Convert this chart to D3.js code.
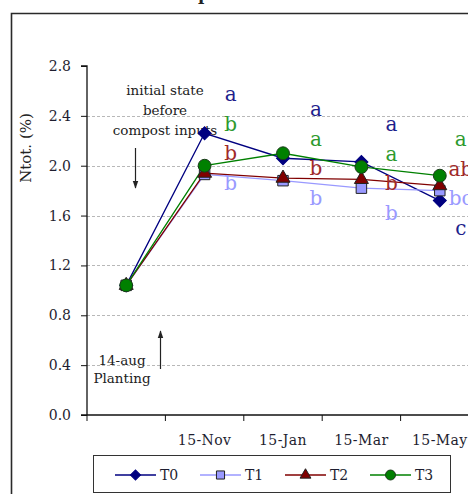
<!DOCTYPE html>
<html>
<head>
<meta charset="utf-8">
<script src="https://cdn.jsdelivr.net/npm/d3@7"></script>
<style>
  body { margin: 0; background: #fff; }
  svg { display: block; }
</style>
</head>
<body>
<div id="chart"></div>
<script>
// dates on the x axis (first one is the planting date, no label)
const categories = ["", "15-Nov", "15-Jan", "15-Mar", "15-May"];
const yTicks = [0, 0.4, 0.8, 1.2, 1.6, 2.0, 2.4, 2.8];

const seriesNames = ["T0", "T1", "T2", "T3"];
const t0 = [1.04, 2.26, 2.06, 2.03, 1.72];
const t1 = [1.04, 1.93, 1.88, 1.82, 1.80];
const t2 = [1.04, 1.94, 1.90, 1.89, 1.84];
const t3 = [1.04, 2.00, 2.10, 1.99, 1.92];

// significance letters per date
const lettersT0 = ["", "a", "a", "a", "c"];
const lettersT1 = ["", "b", "b", "b", "bc"];
const lettersT2 = ["", "b", "b", "b", "ab"];
const lettersT3 = ["", "b", "a", "a", "a"];

const width = 468;
const height = 494;

const colors = { T0: "#000080", T1: "#9999ff", T2: "#800000", T3: "#008000" };
const letterColors = { T0: "#1f1f8c", T1: "#9a9aff", T2: "#a02a2a", T3: "#2e9a2e" };

const svg = d3.select("#chart")
  .append("svg")
  .attr("width", width)
  .attr("height", height);

svg.append("defs").append("marker")
  .attr("id", "arrow")
  .attr("viewBox", "0 0 10 10")
  .attr("refX", 9).attr("refY", 5)
  .attr("markerWidth", 8).attr("markerHeight", 8)
  .attr("markerUnits", "userSpaceOnUse")
  .attr("orient", "auto")
  .append("path")
  .attr("d", "M0,1.5 L10,5 L0,8.5 Z")
  .attr("fill", "#222");

// outer chart frame (cut by the window)
svg.append("path")
  .attr("d", "M11.5,494 L11.5,13.5 L470,13.5")
  .attr("fill", "none")
  .attr("stroke", "#2a2a2a")
  .attr("stroke-width", 1.6);

// what is left of the title
svg.append("text")
  .attr("x", 198).attr("y", 0)
  .style("font-family", "DejaVu Serif, serif")
  .style("font-size", "17px")
  .style("font-weight", "bold")
  .attr("fill", "#222")
  .text("p");

const x = d3.scaleBand()
  .domain(categories.map((d, i) => i))
  .range([87, 87 + 78.4 * 5]);

const y = d3.scaleLinear()
  .domain([0, 2.8])
  .range([415, 66]);

// grid lines
svg.append("g")
  .selectAll("line")
  .data(yTicks.filter(d => d > 0 && d < 2.8))
  .join("line")
  .attr("x1", 87).attr("x2", width)
  .attr("y1", d => Math.round(y(d)) + 0.5)
  .attr("y2", d => Math.round(y(d)) + 0.5)
  .attr("stroke", "#b8b8b8")
  .attr("stroke-dasharray", "3,2");

// y axis
const yAxis = svg.append("g")
  .attr("transform", "translate(87,0)")
  .call(d3.axisLeft(y).tickValues(yTicks).tickFormat(d3.format(".1f")).tickSize(6).tickPadding(10));
yAxis.select(".domain").attr("stroke", "#111").attr("stroke-width", 1.3).attr("d", `M-6,${y(2.8)}H0V${y(0)}`);
yAxis.selectAll(".tick line").attr("stroke", "#111");
yAxis.selectAll("text")
  .style("font-family", "DejaVu Serif, serif")
  .style("font-size", "14px")
  .attr("fill", "#1e1e30");

// x axis
const xAxis = svg.append("g")
  .attr("transform", `translate(0,${y(0)})`)
  .call(d3.axisBottom(x).tickSize(0).tickFormat(i => categories[i]).tickPadding(20));
xAxis.select(".domain").remove();
xAxis.append("line")
  .attr("x1", 81).attr("x2", width)
  .attr("stroke", "#111").attr("stroke-width", 1.3);
xAxis.selectAll(".tickmark")
  .data(d3.range(6))
  .join("line")
  .attr("class", "tickmark")
  .attr("x1", i => 87 + i * x.step()).attr("x2", i => 87 + i * x.step())
  .attr("y1", 0).attr("y2", 6)
  .attr("stroke", "#111");
xAxis.selectAll(".tick text")
  .style("font-family", "DejaVu Serif, serif")
  .style("font-size", "14px")
  .style("letter-spacing", "0.4px")
  .attr("fill", "#1e1e30");

// y axis title
svg.append("text")
  .attr("transform", "translate(31,148) rotate(-90)")
  .attr("text-anchor", "middle")
  .style("font-family", "DejaVu Serif, serif")
  .style("font-size", "15px")
  .attr("fill", "#222")
  .text("Ntot. (%)");

// annotations
const note = svg.append("g")
  .style("font-family", "DejaVu Serif, serif")
  .style("font-size", "13.5px")
  .attr("fill", "#222")
  .attr("text-anchor", "middle");
note.append("text").attr("x", 165).attr("y", 95).text("initial state");
note.append("text").attr("x", 165).attr("y", 115).text("before");
note.append("text").attr("x", 165).attr("y", 135).text("compost inputs");
note.append("text").attr("x", 122).attr("y", 365).text("14-aug");
note.append("text").attr("x", 122).attr("y", 383).text("Planting");

svg.append("line")
  .attr("x1", 135.5).attr("x2", 135.5).attr("y1", 148).attr("y2", 188)
  .attr("stroke", "#222").attr("stroke-width", 1.2)
  .attr("marker-end", "url(#arrow)");
svg.append("line")
  .attr("x1", 160.5).attr("x2", 160.5).attr("y1", 369).attr("y2", 331)
  .attr("stroke", "#222").attr("stroke-width", 1.2)
  .attr("marker-end", "url(#arrow)");

// series
const series = [
  { name: "T0", values: t0, letters: lettersT0, symbol: d3.symbolSquare, size: 85, rotate: 45, stroke: "#000080" },
  { name: "T1", values: t1, letters: lettersT1, symbol: d3.symbolSquare, size: 110, rotate: 0, stroke: "#222" },
  { name: "T2", values: t2, letters: lettersT2, symbol: d3.symbolTriangle, size: 85, rotate: 0, stroke: "#222" },
  { name: "T3", values: t3, letters: lettersT3, symbol: d3.symbolCircle, size: 130, rotate: 0, stroke: "#1a3a1a" }
];

const cx = i => x(i) + x.bandwidth() / 2;

const line = d3.line()
  .x((d, i) => cx(i))
  .y(d => y(d));

series.forEach(s => {
  svg.append("path")
    .datum(s.values)
    .attr("d", line)
    .attr("fill", "none")
    .attr("stroke", colors[s.name])
    .attr("stroke-width", 1.3);
});

series.forEach(s => {
  svg.append("g")
    .selectAll("path")
    .data(s.values)
    .join("path")
    .attr("transform", (d, i) => `translate(${cx(i)},${y(d)}) rotate(${s.rotate})`)
    .attr("d", d3.symbol(s.symbol, s.size))
    .attr("fill", colors[s.name])
    .attr("stroke", s.stroke)
    .attr("stroke-width", 1);
});

// letters: slot order (top to bottom) and placement per date
const letterDx = [0, 26, 33, 30, 21];
const letterTop = [0, 101, 116, 131, 146];
const letterStep = 29.5;
const slotOrder = [
  [],
  ["T0", "T3", "T2", "T1"],
  ["T0", "T3", "T2", "T1"],
  ["T0", "T3", "T2", "T1"],
  ["T3", "T2", "T1", "T0"]
];

series.forEach(s => {
  s.letters.forEach((txt, i) => {
    if (!txt) return;
    const slot = slotOrder[i].indexOf(s.name);
    svg.append("text")
      .attr("x", cx(i) + letterDx[i])
      .attr("y", letterTop[i] + slot * letterStep)
      .attr("text-anchor", "middle")
      .style("font-family", "DejaVu Serif, serif")
      .style("font-size", "20px")
      .attr("fill", letterColors[s.name])
      .text(txt);
  });
});

// legend
const legend = svg.append("g");
legend.append("rect")
  .attr("x", 93.5).attr("y", 455.5)
  .attr("width", 357).attr("height", 37)
  .attr("fill", "#fff")
  .attr("stroke", "#333");

const legendX = [115, 200, 285, 370];
series.forEach((s, k) => {
  const g = legend.append("g").attr("transform", `translate(${legendX[k]},475)`);
  g.append("line")
    .attr("x1", 0).attr("x2", 41)
    .attr("stroke", colors[s.name]).attr("stroke-width", 1.3);
  g.append("path")
    .attr("transform", `translate(20.5,0) rotate(${s.rotate})`)
    .attr("d", d3.symbol(s.symbol, s.size * 0.6))
    .attr("fill", colors[s.name])
    .attr("stroke", s.stroke);
  g.append("text")
    .attr("x", 45).attr("y", 5)
    .style("font-family", "DejaVu Serif, serif")
    .style("font-size", "14px")
    .attr("fill", "#1e1e30")
    .text(s.name);
});
</script>
</body>
</html>
